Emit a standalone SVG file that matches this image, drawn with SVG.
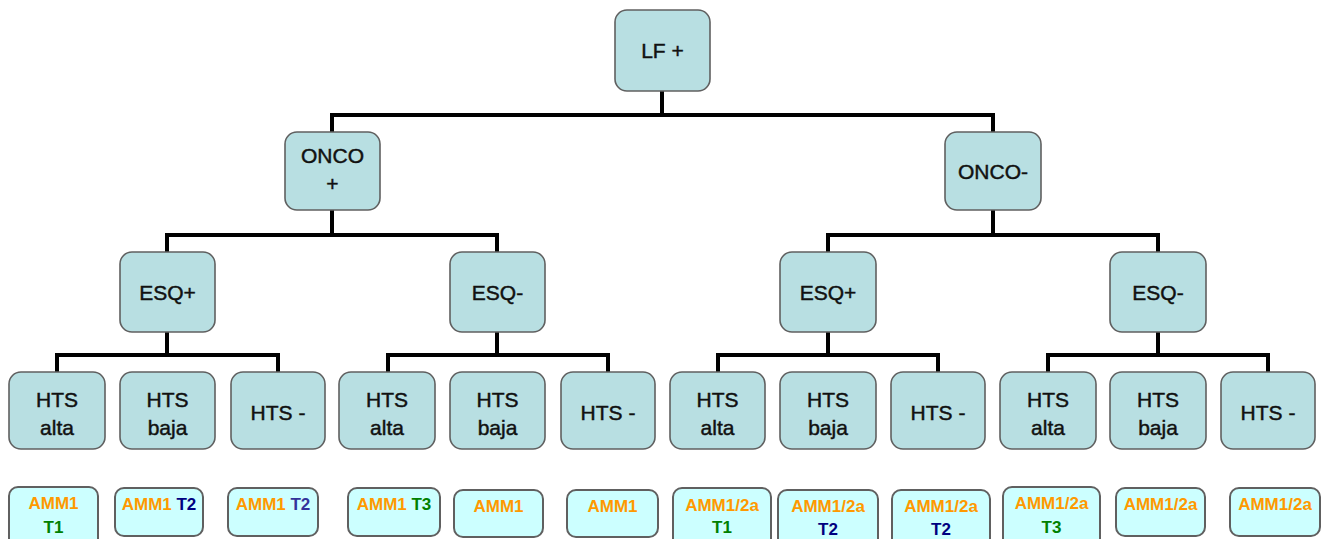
<svg xmlns="http://www.w3.org/2000/svg" width="1334" height="539" viewBox="0 0 1334 539">
<style>
.n{fill:#B8DFE2;stroke:#606060;stroke-width:1.6}
.l{fill:#CCFFFF;stroke:#606060;stroke-width:2}
.t{font-family:"Liberation Sans",Arial,sans-serif;font-size:21px;fill:#111;stroke:#111;stroke-width:0.45;text-anchor:middle}
.s{font-family:"Liberation Sans",Arial,sans-serif;font-size:17px;font-weight:bold;text-anchor:middle}
.o{fill:#FF9900}.g{fill:#008000}.b{fill:#000080}.b2{fill:#33339A}
.c{fill:none;stroke:#000;stroke-width:4}
</style>
<rect width="1334" height="539" fill="#fff"/>
<g id="connectors">
<path class="c" d="M662 91V115M332 132V115H993V132"/>
<path class="c" d="M332 210V235M167 252V235H497V252"/>
<path class="c" d="M993 210V235M828 252V235H1158V252"/>
<path class="c" d="M167 332V355M57 372V355H278V372"/>
<path class="c" d="M497 332V355M388 372V355H608V372"/>
<path class="c" d="M828 332V355M718 372V355H938V372"/>
<path class="c" d="M1158 332V355M1048 372V355H1268V372"/>
</g>
<g id="lf"><rect class="n" x="615" y="10" width="95" height="81" rx="12"/><text class="t" x="662.5" y="58">LF +</text></g>
<g id="onco_pos"><rect class="n" x="285" y="132" width="95" height="78" rx="12"/><text class="t" x="332.5" y="163">ONCO</text><text class="t" x="332.5" y="191">+</text></g>
<g id="onco_neg"><rect class="n" x="945" y="132" width="96" height="78" rx="12"/><text class="t" x="993" y="179">ONCO-</text></g>
<g id="esq_pos_l"><rect class="n" x="120" y="252" width="95" height="80" rx="12"/><text class="t" x="167.5" y="300">ESQ+</text></g>
<g id="esq_neg_l"><rect class="n" x="450" y="252" width="95" height="80" rx="12"/><text class="t" x="497.5" y="300">ESQ-</text></g>
<g id="esq_pos_r"><rect class="n" x="780" y="252" width="96" height="80" rx="12"/><text class="t" x="828" y="300">ESQ+</text></g>
<g id="esq_neg_r"><rect class="n" x="1110" y="252" width="96" height="80" rx="12"/><text class="t" x="1158" y="300">ESQ-</text></g>
<g id="hts1"><rect class="n" x="9" y="372" width="96" height="77" rx="12"/><text class="t" x="57" y="407">HTS</text><text class="t" x="57" y="435">alta</text></g>
<g id="hts2"><rect class="n" x="120" y="372" width="95" height="77" rx="12"/><text class="t" x="167.5" y="407">HTS</text><text class="t" x="167.5" y="435">baja</text></g>
<g id="hts3"><rect class="n" x="231" y="372" width="94" height="77" rx="12"/><text class="t" x="278" y="420">HTS -</text></g>
<g id="hts4"><rect class="n" x="339" y="372" width="96" height="77" rx="12"/><text class="t" x="387" y="407">HTS</text><text class="t" x="387" y="435">alta</text></g>
<g id="hts5"><rect class="n" x="450" y="372" width="95" height="77" rx="12"/><text class="t" x="497.5" y="407">HTS</text><text class="t" x="497.5" y="435">baja</text></g>
<g id="hts6"><rect class="n" x="561" y="372" width="94" height="77" rx="12"/><text class="t" x="608" y="420">HTS -</text></g>
<g id="hts7"><rect class="n" x="670" y="372" width="95" height="77" rx="12"/><text class="t" x="717.5" y="407">HTS</text><text class="t" x="717.5" y="435">alta</text></g>
<g id="hts8"><rect class="n" x="780" y="372" width="96" height="77" rx="12"/><text class="t" x="828" y="407">HTS</text><text class="t" x="828" y="435">baja</text></g>
<g id="hts9"><rect class="n" x="891" y="372" width="94" height="77" rx="12"/><text class="t" x="938" y="420">HTS -</text></g>
<g id="hts10"><rect class="n" x="1000" y="372" width="96" height="77" rx="12"/><text class="t" x="1048" y="407">HTS</text><text class="t" x="1048" y="435">alta</text></g>
<g id="hts11"><rect class="n" x="1110" y="372" width="96" height="77" rx="12"/><text class="t" x="1158" y="407">HTS</text><text class="t" x="1158" y="435">baja</text></g>
<g id="hts12"><rect class="n" x="1221" y="372" width="94" height="77" rx="12"/><text class="t" x="1268" y="420">HTS -</text></g>
<g id="r1"><rect class="l" x="9" y="487" width="89" height="60" rx="9"/><text class="s o" x="53.5" y="509">AMM1</text><text class="s g" x="53.5" y="533">T1</text></g>
<g id="r2"><rect class="l" x="115" y="488" width="88" height="48" rx="9"/><text class="s" x="159" y="510"><tspan class="o">AMM1 </tspan><tspan class="b">T2</tspan></text></g>
<g id="r3"><rect class="l" x="228" y="488" width="90" height="48" rx="9"/><text class="s" x="273" y="510"><tspan class="o">AMM1 </tspan><tspan class="b2">T2</tspan></text></g>
<g id="r4"><rect class="l" x="348" y="488" width="92" height="48" rx="9"/><text class="s" x="394" y="510"><tspan class="o">AMM1 </tspan><tspan class="g">T3</tspan></text></g>
<g id="r5"><rect class="l" x="454" y="490" width="89" height="47" rx="9"/><text class="s o" x="498.5" y="512">AMM1</text></g>
<g id="r6"><rect class="l" x="567" y="490" width="91" height="47" rx="9"/><text class="s o" x="612.5" y="512">AMM1</text></g>
<g id="r7"><rect class="l" x="673" y="488" width="98" height="60" rx="9"/><text class="s o" x="722" y="511">AMM1/2a</text><text class="s g" x="722" y="533">T1</text></g>
<g id="r8"><rect class="l" x="778" y="490" width="100" height="60" rx="9"/><text class="s o" x="828" y="512">AMM1/2a</text><text class="s b" x="828" y="535">T2</text></g>
<g id="r9"><rect class="l" x="892" y="490" width="98" height="60" rx="9"/><text class="s o" x="941" y="512">AMM1/2a</text><text class="s b" x="941" y="535">T2</text></g>
<g id="r10"><rect class="l" x="1003" y="487" width="97" height="60" rx="9"/><text class="s o" x="1051.5" y="509">AMM1/2a</text><text class="s g" x="1051.5" y="533">T3</text></g>
<g id="r11"><rect class="l" x="1116" y="488" width="89" height="48" rx="9"/><text class="s o" x="1160.5" y="510">AMM1/2a</text></g>
<g id="r12"><rect class="l" x="1230" y="488" width="90" height="48" rx="9"/><text class="s o" x="1275" y="510">AMM1/2a</text></g>
</svg>
